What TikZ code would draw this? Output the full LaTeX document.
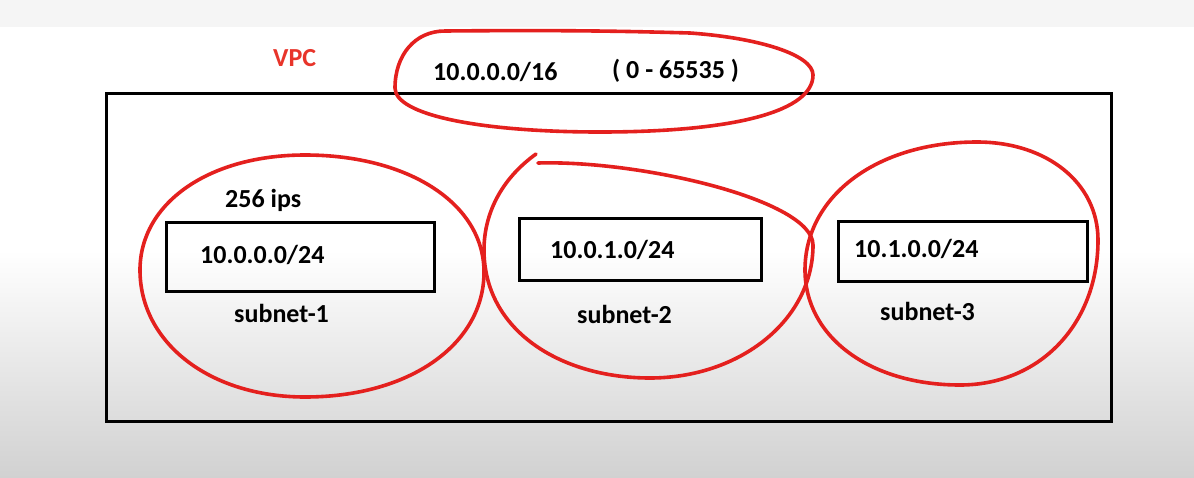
\documentclass[tikz,border=0pt]{standalone}
\usepackage{fontspec}
\setmainfont{Carlito}
\usetikzlibrary{positioning}
\definecolor{penred}{RGB}{228,32,30}
\definecolor{vpcred}{RGB}{232,52,42}
\begin{document}
\begin{tikzpicture}[x=1pt, y=-1pt,
  box_style/.style={draw=black, line width=3pt, inner sep=0pt},
  ring_style/.style={draw=penred, line width=3.6pt, line cap=round, line join=round},
  text_style/.style={inner sep=0pt, anchor=base west, font=\bfseries\fontsize{26}{30}\selectfont}]

  % background
  \fill[black!4] (0,0) rectangle (1194,27);
  \fill[white] (0,27) rectangle (1194,250);
  \shade[top color=white, bottom color=black!18] (0,250) rectangle (1194,477);
  \useasboundingbox (0,0) rectangle (1194,477);

  \node (vpc) [box_style, minimum width=1005pt, minimum height=328pt] at (608.5,257) {};
  \node (box1) [box_style, minimum width=268pt, minimum height=69pt] at (300,256.5) {};
  \node (box2) [box_style, minimum width=242pt, minimum height=62pt] at (640,249) {};
  \node (box3) [box_style, minimum width=249pt, minimum height=60pt] at (962.5,251) {};
  %
  \node (vpc_label) [text_style, text=vpcred] at (273,66) {VPC};
  \node (vpc_cidr) [text_style] at (433,80) {10.0.0.0/16};
  \node (vpc_range) [text_style] at (612,78) {( 0 - 65535 )};
  \node (ips) [text_style] at (225,207) {256 ips};
  \node (cidr1) [text_style] at (200,263) {10.0.0.0/24};
  \node (cidr2) [text_style] at (550,258) {10.0.1.0/24};
  \node (cidr3) [text_style] at (854,257) {10.1.0.0/24};
  \node (name1) [text_style] at (234,322) {subnet-1};
  \node (name2) [text_style] at (577,323) {subnet-2};
  \node (name3) [text_style] at (880,320) {subnet-3};
  %
  \draw [ring_style] (395,88) .. controls (395,55) and (415,31) .. (445,31)
    .. controls (560,30) and (620,31) .. (690,33) .. controls (760,38) and (813,55) .. (813,75)
    .. controls (813,110) and (740,132) .. (600,132) .. controls (480,132) and (395,115) .. cycle;
  \draw [ring_style] (305,155) .. controls (409,155) and (484,204) .. (484,272)
    .. controls (484,344) and (410,397) .. (305,397) .. controls (210,397) and (140,343) .. (140,270)
    .. controls (140,203) and (209,155) .. cycle;
  \draw [ring_style] (536,154) .. controls (500,180) and (484,215) .. (484,250)
    .. controls (484,330) and (560,378) .. (650,378) .. controls (740,378) and (813,320) .. (813,245)
    .. controls (813,200) and (640,160) .. (538,163);
  \draw [ring_style] (977,142) .. controls (1047,142) and (1098,183) .. (1098,240)
    .. controls (1098,324) and (1040,385) .. (960,385) .. controls (870,385) and (805,337) .. (805,270)
    .. controls (805,196) and (877,142) .. cycle;
\end{tikzpicture}
\end{document}
